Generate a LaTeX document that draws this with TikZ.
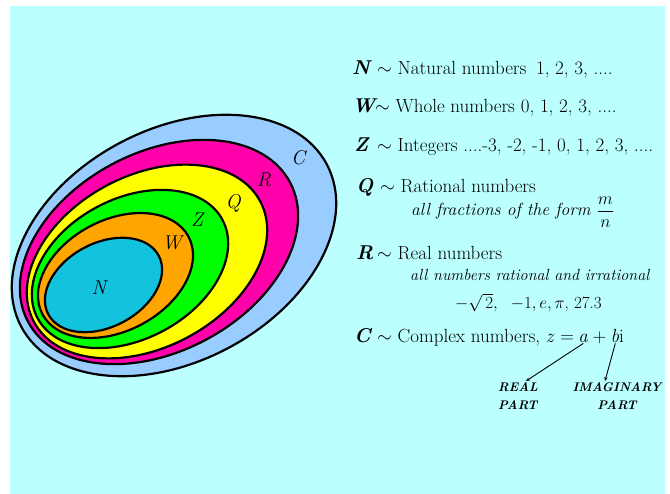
\RequirePackage{fix-cm}
\documentclass[tikz,border=0pt]{standalone}
\usepackage{fontspec}
\usetikzlibrary{arrows.meta}
\definecolor{bgc}{HTML}{BBFFFF}
\definecolor{cC}{HTML}{99CCFF}
\definecolor{cR}{HTML}{FF00AA}
\definecolor{cQ}{HTML}{FFFF00}
\definecolor{cZ}{HTML}{00FF00}
\definecolor{cW}{HTML}{FFA500}
\definecolor{cN}{HTML}{13C2DC}
\tikzset{
  ell/.style={draw=black, line width=2.2pt},
  setlabel/.style={inner sep=0pt, font=\itshape\fontsize{20}{24}\selectfont},
  bigletter/.style={inner sep=0pt, anchor=base west, font=\bfseries\itshape\fontsize{20}{24}\selectfont},
  txt/.style={inner sep=0pt, anchor=base west, font=\fontsize{19}{23}\selectfont},
  itxt/.style={inner sep=0pt, anchor=base west, font=\itshape\fontsize{16.1}{20}\selectfont},
  partlbl/.style={inner sep=0pt, align=left, anchor=north west, font=\bfseries\itshape\fontsize{12.5}{18.5}\selectfont},
  arr/.style={line width=0.9pt, -{Stealth[length=4pt,width=3.5pt]}}
}
\begin{document}
\begin{tikzpicture}[x=1pt,y=1pt]
\useasboundingbox (0,0) rectangle (670,494);
\fill[white] (0,0) rectangle (670,494);
\fill[bgc] (10,0) rectangle (665,488);
% nested ellipses
\draw[ell, fill=cC, rotate around={28:(174,248.5)}] (174,248.5) ellipse [x radius=173pt, y radius=116pt];
\draw[ell, fill=cR, rotate around={28:(159,242)}] (159,242) ellipse [x radius=148.4pt, y radius=99.5pt];
\draw[ell, fill=cQ, rotate around={28:(147,232.5)}] (147,232.5) ellipse [x radius=128.2pt, y radius=86pt];
\draw[ell, fill=cZ, rotate around={28:(130,225)}] (130,225) ellipse [x radius=104.7pt, y radius=70.2pt];
\draw[ell, fill=cW, rotate around={28:(115.5,218.5)}] (115.5,218.5) ellipse [x radius=82.7pt, y radius=55.4pt];
\draw[ell, fill=cN, rotate around={28:(103.5,209)}] (103.5,209) ellipse [x radius=62.5pt, y radius=41.9pt];
% set labels
\node[setlabel] (sN) at (99,206) {N};
\node[setlabel] (sW) at (172,251) {W};
\node[setlabel] (sZ) at (197,274) {Z};
\node[setlabel] (sQ) at (233,291) {Q};
\node[setlabel] (sR) at (264,314) {R};
\node[setlabel] (sC) at (298,336) {C};
% legend
\node[bigletter] (lN) at (352,419) {N};
\node[txt] (tN) at (377,419) {$\sim$ Natural numbers\enspace 1, 2, 3, ....};
\node[bigletter] (lW) at (352,381) {W};
\node[txt] (tW) at (375,381) {$\sim$ Whole numbers 0, 1, 2, 3, ....};
\node[bigletter] (lZ) at (354,342) {Z};
\node[txt] (tZ) at (377,342) {$\sim$ Integers ....-3, -2, -1, 0, 1, 2, 3, ....};
\node[bigletter] (lQ) at (356,301) {Q};
\node[txt] (tQ) at (380,301) {$\sim$ Rational numbers};
\node[itxt, font=\itshape\fontsize{17.5}{21}\selectfont] (fr) at (411,278) {all fractions of the form $\displaystyle\frac{m}{n}$};
\node[bigletter] (lR) at (356,234) {R};
\node[txt] (tR) at (377,234) {$\sim$ Real numbers};
\node[itxt] (al) at (410,213) {all numbers rational and irrational};
\node[txt, font=\fontsize{17}{21}\selectfont] (ex) at (455,185) {$-\sqrt{\,2},\ \ -1, e, \pi$, 27.3};
\node[bigletter] (lC) at (354,151) {C};
\node[txt] (tC) at (377,151) {$\sim$ Complex numbers, \textit{z} =};
\node[txt] (na) at ([xshift=4pt]tC.base east) {\textit{a}};
\node[txt] (pl) at ([xshift=4pt]na.base east) {+};
\node[txt] (nb) at ([xshift=4pt]pl.base east) {\textit{b}i};
\node[partlbl] (real) at (498,112) {REAL\\PART};
\node[partlbl, align=center, anchor=north] (imag) at (617,112) {IMAGINARY\\PART};
\draw[arr] (na.south) -- ([xshift=8pt,yshift=1pt]real.north);
\draw[arr] ([xshift=-2pt]nb.south) -- ([xshift=-12pt,yshift=1pt]imag.north);
\end{tikzpicture}
\end{document}
